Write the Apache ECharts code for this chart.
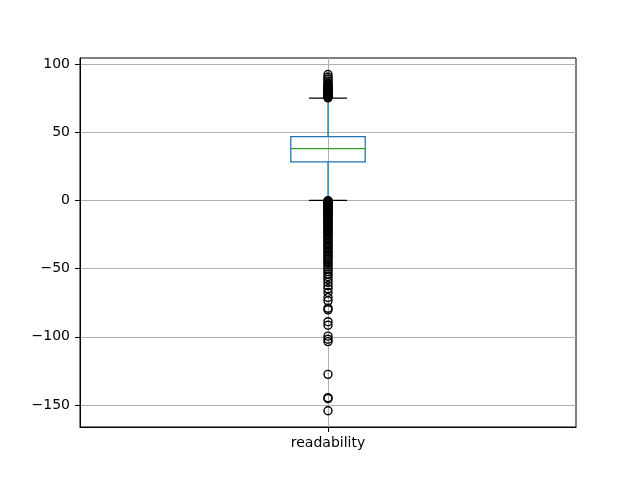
<!DOCTYPE html>
<html>
<head>
<meta charset="utf-8">
<script src="https://cdn.jsdelivr.net/npm/echarts@6/dist/echarts.min.js"></script>
<style>html,body{margin:0;padding:0;background:#fff}#c{width:640px;height:480px}</style>
</head>
<body>
<div id="c"></div>
<script>
const categories = ['readability'];
const categoryPositions = [1];
// [position, lower whisker, Q1, median, Q3, upper whisker]
const boxStats = [[1, 0.0, 28.3, 38.0, 46.7, 75.0]];
const upperFliers = [75.2, 75.6, 76.0, 76.4, 76.9, 77.3, 77.8, 78.2, 78.7, 79.1, 79.6, 80.0, 80.5,
  81.0, 81.4, 82.0, 82.6, 83.1, 83.8, 84.5, 85.3, 86.2, 87.6, 89.0, 90.5, 92.3];
const lowerFliers = [-0.2, -0.5, -0.9, -1.3, -1.7, -2.1, -2.6, -3.0, -3.5, -4.0, -4.6, -5.1, -5.7,
  -6.3, -6.9, -7.5, -8.2, -8.8, -9.5, -10.2, -10.9, -11.7, -12.4, -13.2, -14.0, -14.8, -15.7,
  -16.5, -17.4, -18.3, -19.2, -20.1, -21.1, -22.0, -23.0, -24.0, -25.1, -26.1, -27.2, -28.3,
  -29.4, -30.6, -31.7, -32.9, -34.1, -35.3, -36.5, -37.8, -39.0, -40.3, -41.6, -43.0, -44.4,
  -45.8, -47.3, -48.9, -50.5, -52.2, -54.0, -55.9, -57.9, -60.1, -62.5, -64.8, -67.5, -71.2,
  -73.6, -79.0, -80.2, -88.9, -91.5, -99.5, -101.8, -103.5, -127.5, -144.6, -145.3, -154.2];
const yTicks = [-150, -100, -50, 0, 50, 100];
const yMin = -166.1, yMax = 104.4;

const fliers = upperFliers.concat(lowerFliers).map(v => [categoryPositions[0], v]);
const font = 'DejaVu Sans';

const chart = echarts.init(document.getElementById('c'), null, {renderer: 'canvas'});
chart.setOption({
  animation: false,
  backgroundColor: '#fff',
  grid: {left: 80, right: 64, top: 58, bottom: 53, show: true, borderColor: '#000', borderWidth: 1, backgroundColor: 'transparent'},
  xAxis: {
    type: 'value', min: 0.5, max: 1.5,
    axisLine: {show: true, onZero: false, lineStyle: {color: '#000', width: 1}},
    axisTick: {show: true, customValues: categoryPositions, length: 5, inside: false, lineStyle: {color: '#000'}},
    axisLabel: {show: true, customValues: categoryPositions, margin: 9, color: '#000', fontFamily: font, fontSize: 14,
      formatter: v => categories[categoryPositions.indexOf(v)] || ''},
    splitLine: {show: true, lineStyle: {color: '#b0b0b0', width: 1}}
  },
  yAxis: {
    type: 'value', min: yMin, max: yMax,
    axisLine: {show: true, onZero: false, lineStyle: {color: '#000', width: 1}},
    axisTick: {show: true, customValues: yTicks, length: 5, inside: false, lineStyle: {color: '#000'}},
    axisLabel: {show: true, customValues: yTicks, margin: 10, color: '#000', fontFamily: font, fontSize: 14,
      formatter: v => String(v).replace('-', '\u2212')},
    splitLine: {show: true, lineStyle: {color: '#b0b0b0', width: 1}}
  },
  series: [
    {
      type: 'custom',
      data: boxStats,
      z: 3,
      renderItem: function (params, api) {
        const x = api.value(0);
        const lo = api.value(1), q1 = api.value(2), med = api.value(3), q3 = api.value(4), hi = api.value(5);
        const cx = api.coord([x, med])[0];
        const bw = api.size([0.15, 0])[0];
        const cw = api.size([0.077, 0])[0];
        const yLo = api.coord([x, lo])[1], yQ1 = api.coord([x, q1])[1], yMed = api.coord([x, med])[1];
        const yQ3 = api.coord([x, q3])[1], yHi = api.coord([x, hi])[1];
        const blue = {stroke: '#1f77b4', lineWidth: 1.3, fill: null};
        return {
          type: 'group',
          children: [
            {type: 'line', shape: {x1: cx, y1: yQ3, x2: cx, y2: yHi}, style: blue},
            {type: 'line', shape: {x1: cx, y1: yQ1, x2: cx, y2: yLo}, style: blue},
            {type: 'rect', shape: {x: cx - bw / 2, y: yQ3, width: bw, height: yQ1 - yQ3}, style: blue},
            {type: 'line', shape: {x1: cx - bw / 2, y1: yMed, x2: cx + bw / 2, y2: yMed}, style: {stroke: '#2ca02c', lineWidth: 1.3}},
            {type: 'line', shape: {x1: cx - cw / 2, y1: yHi, x2: cx + cw / 2, y2: yHi}, style: {stroke: '#000', lineWidth: 1.4}, z2: 10},
            {type: 'line', shape: {x1: cx - cw / 2, y1: yLo, x2: cx + cw / 2, y2: yLo}, style: {stroke: '#000', lineWidth: 1.4}, z2: 10}
          ]
        };
      }
    },
    {
      type: 'scatter',
      data: fliers,
      z: 4,
      symbol: 'circle',
      symbolSize: 8,
      itemStyle: {color: 'rgba(0,0,0,0)', borderColor: '#000', borderWidth: 1.4, opacity: 1}
    }
  ]
});
</script>
</body>
</html>
